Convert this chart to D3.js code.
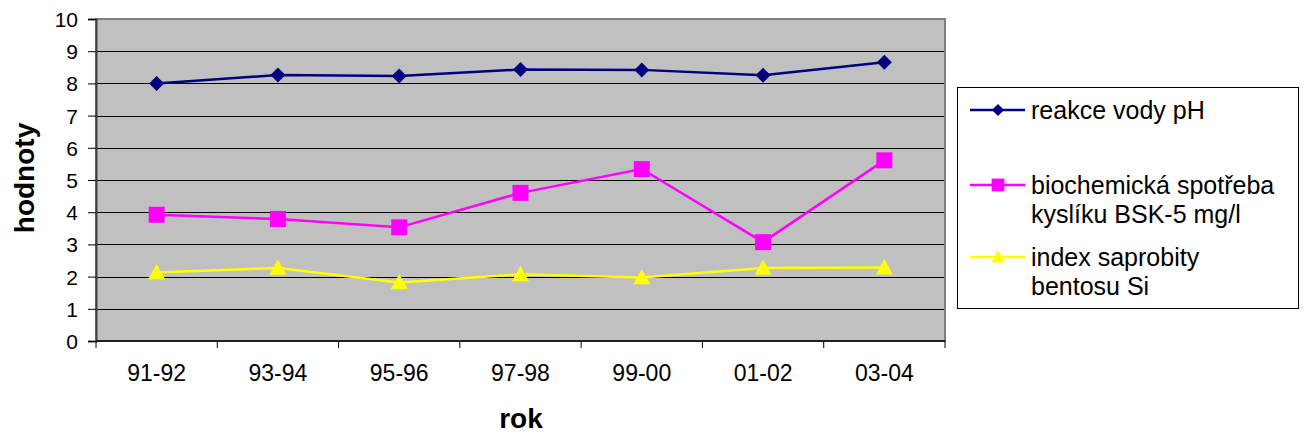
<!DOCTYPE html>
<html>
<head>
<meta charset="utf-8">
<script src="https://cdn.jsdelivr.net/npm/d3@7"></script>
<style>
  body { margin: 0; background: #fff; }
  svg { display: block; font-family: "Liberation Sans", Arial, sans-serif; }
</style>
</head>
<body>
<svg width="1311" height="438"></svg>
<script>
// data
const years = ["91-92", "93-94", "95-96", "97-98", "99-00", "01-02", "03-04"];
const ph = [8.0, 8.26, 8.23, 8.43, 8.42, 8.25, 8.66];
const bsk = [3.92, 3.79, 3.53, 4.6, 5.34, 3.07, 5.61];
const si = [2.13, 2.27, 1.82, 2.07, 1.97, 2.27, 2.28];
const yTicks = [0, 1, 2, 3, 4, 5, 6, 7, 8, 9, 10];

const series = [
  { name: ["reakce vody pH"], values: ph, color: "#000080", shape: "diamond" },
  { name: ["biochemická spotřeba", "kyslíku BSK-5 mg/l"], values: bsk, color: "#ff00ff", shape: "square" },
  { name: ["index saprobity", "bentosu Si"], values: si, color: "#ffff00", shape: "triangle" }
];

// plot box
const pLeft = 96, pRight = 945, pTop = 19, pBottom = 341;

const svg = d3.select("svg");

const x = d3.scaleBand()
  .domain(years)
  .range([pLeft, pRight]);
const y = d3.scaleLinear()
  .domain([0, 10])
  .range([pBottom, pTop]);

// background
svg.append("rect")
  .attr("x", pLeft).attr("y", pTop)
  .attr("width", pRight - pLeft).attr("height", pBottom - pTop)
  .attr("fill", "#c0c0c0");

// grid
svg.append("g")
  .attr("transform", "translate(" + pLeft + ",0)")
  .call(d3.axisLeft(y).tickValues(yTicks.slice(1, -1)).tickSize(-(pRight - pLeft)).tickFormat(""))
  .call(g => g.select(".domain").remove())
  .call(g => g.selectAll("line").attr("stroke", "#000").attr("shape-rendering", "crispEdges"));

// border of plot area
svg.append("rect")
  .attr("x", pLeft).attr("y", pTop)
  .attr("width", pRight - pLeft).attr("height", pBottom - pTop)
  .attr("fill", "none")
  .attr("stroke", "#808080")
  .attr("stroke-width", 2);

// y axis
const yAxis = svg.append("g")
  .attr("transform", "translate(" + pLeft + ",0)")
  .call(d3.axisLeft(y).tickValues(yTicks).tickSize(8).tickPadding(10).tickFormat(d3.format("d")));
yAxis.select(".domain").attr("stroke", "#404040").attr("stroke-width", 2);
yAxis.selectAll("line").attr("stroke", "#000");
yAxis.selectAll("text")
  .attr("font-size", 21)
  .attr("font-family", "Liberation Sans, Arial, sans-serif")
  .attr("fill", "#000")
  .attr("dy", "0.36em");

// x axis: ticks between categories
const xg = svg.append("g");
xg.append("line")
  .attr("x1", pLeft).attr("x2", pRight)
  .attr("y1", pBottom).attr("y2", pBottom)
  .attr("stroke", "#202020").attr("stroke-width", 2);
xg.selectAll(".tk")
  .data(years.map(d => x(d)).concat([pRight]))
  .join("line")
  .attr("x1", d => d).attr("x2", d => d)
  .attr("y1", pBottom).attr("y2", pBottom + 7)
  .attr("stroke", "#000");
xg.selectAll("text")
  .data(years)
  .join("text")
  .attr("x", d => x(d) + x.bandwidth() / 2)
  .attr("y", 373)
  .attr("dy", "0.36em")
  .attr("text-anchor", "middle")
  .attr("font-size", 23)
  .text(d => d);

// axis titles
svg.append("text")
  .attr("transform", "translate(34,178) rotate(-90)")
  .attr("text-anchor", "middle")
  .attr("font-size", 28)
  .attr("font-weight", "bold")
  .text("hodnoty");
svg.append("text")
  .attr("x", 521).attr("y", 418)
  .attr("dy", "0.36em")
  .attr("text-anchor", "middle")
  .attr("font-size", 28)
  .attr("font-weight", "bold")
  .text("rok");

// marker paths
function marker(shape, s) {
  if (shape === "diamond") return "M0," + (-s) + "L" + s + ",0L0," + s + "L" + (-s) + ",0Z";
  if (shape === "square") return "M" + (-s) + "," + (-s) + "h" + 2 * s + "v" + 2 * s + "h" + (-2 * s) + "Z";
  return "M0," + (-s) + "L" + s + "," + (s * 0.8) + "L" + (-s) + "," + (s * 0.8) + "Z";
}
const sizes = { diamond: 7.5, square: 8, triangle: 8.5 };
const cx = d => x(d) + x.bandwidth() / 2;

const line = d3.line()
  .x((d, i) => cx(years[i]))
  .y(d => y(d));

series.forEach(s => {
  svg.append("path")
    .datum(s.values)
    .attr("fill", "none")
    .attr("stroke", s.color)
    .attr("stroke-width", 2.5)
    .attr("d", line);
  svg.selectAll(null)
    .data(s.values)
    .join("path")
    .attr("transform", (d, i) => "translate(" + cx(years[i]) + "," + y(d) + ")")
    .attr("d", marker(s.shape, sizes[s.shape]))
    .attr("fill", s.color);
});

// legend
const lg = svg.append("g");
lg.append("rect")
  .attr("x", 957.5).attr("y", 87.5)
  .attr("width", 341).attr("height", 221)
  .attr("fill", "#fff")
  .attr("stroke", "#000");
const rowY = [110, 185, 257];
series.forEach((s, i) => {
  const yy = rowY[i];
  lg.append("line")
    .attr("x1", 970).attr("x2", 1025)
    .attr("y1", yy).attr("y2", yy)
    .attr("stroke", s.color).attr("stroke-width", 2.5);
  lg.append("path")
    .attr("transform", "translate(998," + yy + ")")
    .attr("d", marker(s.shape, sizes[s.shape] * 0.8))
    .attr("fill", s.color);
  s.name.forEach((t, j) => {
    lg.append("text")
      .attr("x", 1031).attr("y", yy + j * 29)
      .attr("dy", "0.36em")
      .attr("font-size", 25)
      .text(t);
  });
});
</script>
</body>
</html>
